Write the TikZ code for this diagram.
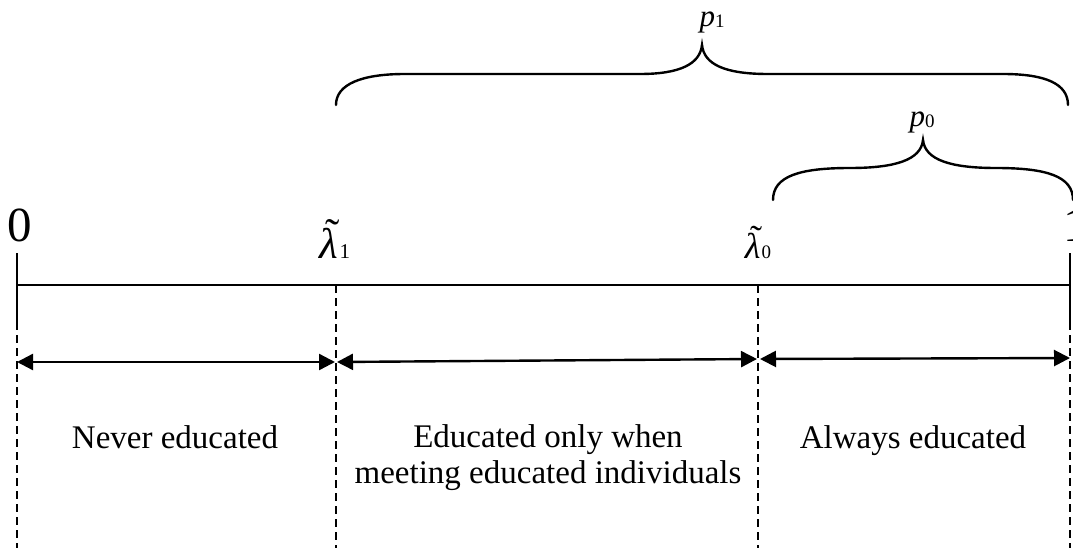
\documentclass[tikz,border=0pt]{standalone}
\usepackage{fontspec}
\setmainfont{Liberation Serif}
\usetikzlibrary{arrows.meta}
\tikzset{
  axis/.style={line width=2.6pt},
  guide/.style={line width=2pt, dash pattern=on 8pt off 5pt},
  span/.style={line width=2.4pt, {Triangle[length=16pt,width=16pt]}-{Triangle[length=16pt,width=16pt]}},
  bracecurve/.style={line width=2.4pt, line cap=round},
  lbl/.style={inner sep=0pt, anchor=base, font=\fontsize{33}{36}\selectfont},
}
\newcommand{\sub}[2]{{\fontsize{#1}{#1}\selectfont #2}}
\newcommand{\lamt}{\rlap{\hspace{0.14em}\raisebox{0.22em}{\upshape\char"02DC}}\textit{λ}}
\begin{document}
\begin{tikzpicture}[x=1pt,y=-1pt]
\useasboundingbox (0,0) rectangle (1073,548);
% key points
\coordinate (A) at (17,285);
\coordinate (B) at (336,285);
\coordinate (C) at (758,285);
\coordinate (D) at (1070,285);
\coordinate (Atop) at (17,253);
\coordinate (Dtop) at (1070,253);
\coordinate (Asol) at (17,322);
\coordinate (Dsol) at (1070,322);
\coordinate (Abot) at (17,548);
\coordinate (Bbot) at (336,548);
\coordinate (Cbot) at (758,548);
\coordinate (Dbot) at (1070,548);
% axis
\draw[axis] (A) -- (D);
\draw[axis] (Atop) -- (Asol);
\draw[axis] (Dtop) -- (Dsol);
\draw[guide] (Asol) -- (Abot);
\draw[guide] (Dsol) -- (Dbot);
\draw[guide] (B) -- (Bbot);
\draw[guide] (C) -- (Cbot);
% spans
\coordinate (s1a) at (17,362);
\coordinate (s1b) at (335,362);
\coordinate (s2a) at (337,362);
\coordinate (s2b) at (757,359);
\coordinate (s3a) at (760,359);
\coordinate (s3b) at (1070,358);
\draw[span] (s1a) -- (s1b);
\draw[span] (s2a) -- (s2b);
\draw[span] (s3a) -- (s3b);
% labels on axis
\node[inner sep=0pt, anchor=base, font=\fontsize{49}{49}\selectfont] (zero) at (20,241) {0};
\node[inner sep=0pt, anchor=base, font=\fontsize{49}{49}\selectfont] (one) at (1076,241) {1};
\node[inner sep=0pt, anchor=base] (lam1) at (335,258) {\fontsize{43}{43}\selectfont\lamt\hspace{1pt}\sub{21}{1}};
\node[inner sep=0pt, anchor=base] (lam0) at (758,258) {\fontsize{36}{36}\selectfont\lamt\hspace{1pt}\sub{19}{0}};
% braces
\draw[bracecurve] (336,105) .. controls (336,84) and (362,74) .. (405,74) -- (640,74)
  .. controls (680,74) and (700,64) .. (702,45)
  .. controls (704,64) and (724,74) .. (768,74) -- (1003,74)
  .. controls (1046,74) and (1068,84) .. (1068,105);
\draw[bracecurve] (773,200) .. controls (773,176) and (800,168) .. (850,168)
  .. controls (895,168) and (921,160) .. (923,140)
  .. controls (925,160) and (951,168) .. (996,168)
  .. controls (1046,168) and (1073,176) .. (1073,200);
\node[inner sep=0pt, anchor=base] (p1) at (712,27) {\fontsize{31}{31}\selectfont\itshape p\upshape\raisebox{-1pt}{\sub{19}{1}}};
\node[inner sep=0pt, anchor=base] (p0) at (922,127) {\fontsize{31}{31}\selectfont\itshape p\upshape\raisebox{-1pt}{\sub{19}{0}}};
% region texts
\node[lbl] (never) at (175,448) {Never educated};
\node[lbl, align=center, anchor=north] (only) at (548,424) {Educated only when\\meeting educated individuals};
\node[lbl] (always) at (913,448) {Always educated};
\end{tikzpicture}
\end{document}
